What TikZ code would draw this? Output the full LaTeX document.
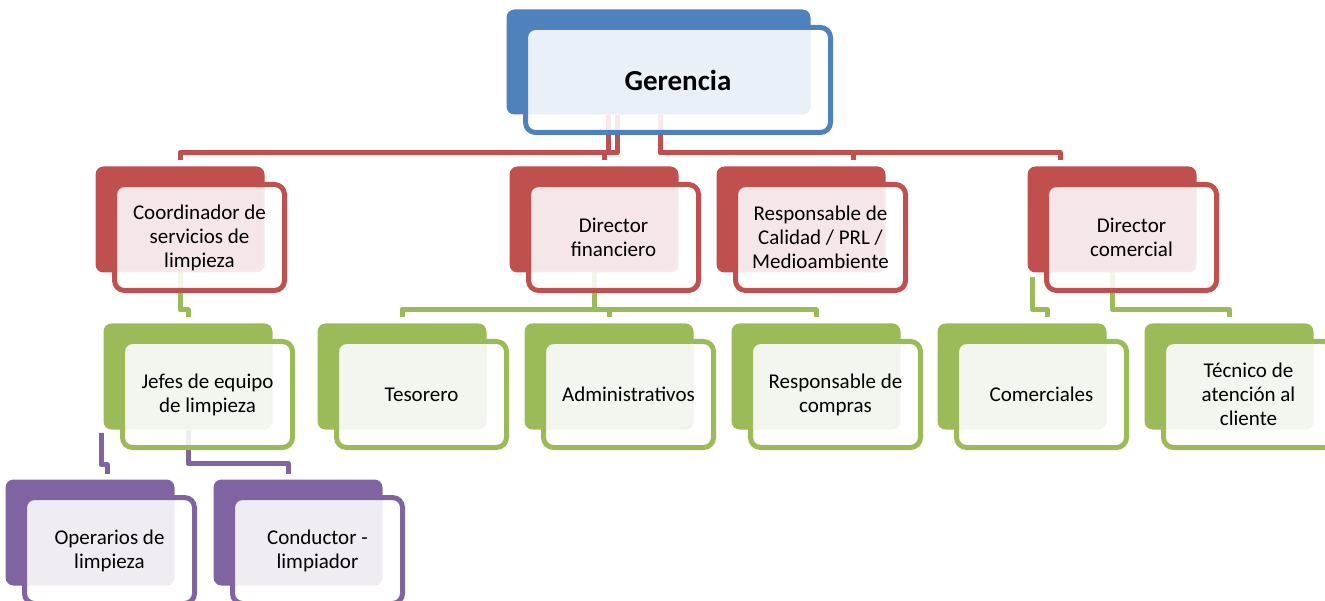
\documentclass[tikz,border=0pt]{standalone}
\usepackage{fontspec}
\setmainfont{Carlito}
\usetikzlibrary{calc}
\definecolor{cblue}{HTML}{4F81BD}
\definecolor{tblue}{HTML}{EAF0F8}
\definecolor{cred}{HTML}{C0504D}
\definecolor{tred}{HTML}{F5E7E7}
\definecolor{cgreen}{HTML}{9BBB59}
\definecolor{tgreen}{HTML}{F3F6EE}
\definecolor{cpurple}{HTML}{8064A2}
\definecolor{tpurple}{HTML}{EFECF4}
\pgfdeclarelayer{connlayer}
\pgfdeclarelayer{backlayer}
\pgfsetlayers{connlayer,backlayer,main}
\tikzset{
  orgbox/.style 2 args={draw=#1, line width=5pt, rounded corners=10pt,
    fill=white, fill opacity=0.88, text opacity=1, text=black,
    minimum width=170pt, minimum height=106pt, inner sep=0pt, align=center,
    font=\fontsize{21}{24}\selectfont,
    path picture={\fill[#2, fill opacity=1] (path picture bounding box.north west)
      rectangle ($(path picture bounding box.south east)+(-22.5pt,20.5pt)$);}},
  connline/.style={draw=#1, line width=5pt, line join=round}
}
\newcommand\orgnode[7][]{%
  \node[orgbox={#3}{#4},#1] (#2) at (#5,#6) {#7};
  \begin{pgfonlayer}{backlayer}
    \fill[#3, rounded corners=8pt] ($(#2.north west)+(-16.5,-15.5)$) rectangle ($(#2.south east)+(-22.5,-20.5)$);
  \end{pgfonlayer}}
\begin{document}
\begin{tikzpicture}[x=1pt,y=-1pt]
\useasboundingbox (0,0) rectangle (1325,601);
\clip (0,0) rectangle (1325,601);
\orgnode[minimum width=305pt, minimum height=105pt, font=\fontsize{29}{34}\selectfont\bfseries]{ger}{cblue}{tblue}{678}{80}{Gerencia}
\orgnode{coord}{cred}{tred}{199.5}{237.5}{Coordinador de\\servicios de\\limpieza}
\orgnode{dfin}{cred}{tred}{613.5}{237.5}{Director\\financiero}
\orgnode{cal}{cred}{tred}{820.5}{237.5}{Responsable de\\Calidad / PRL /\\Medioambiente}
\orgnode{dcom}{cred}{tred}{1131.5}{237.5}{Director\\comercial}
\orgnode{jefes}{cgreen}{tgreen}{207.5}{394.5}{Jefes de equipo\\de limpieza}
\orgnode{tes}{cgreen}{tgreen}{421.5}{394.5}{Tesorero}
\orgnode{adm}{cgreen}{tgreen}{628.5}{394.5}{Administrativos}
\orgnode{comp}{cgreen}{tgreen}{835.5}{394.5}{Responsable de\\compras}
\orgnode{come}{cgreen}{tgreen}{1041.5}{394.5}{Comerciales}
\orgnode{tec}{cgreen}{tgreen}{1248.5}{394.5}{Técnico de\\atención al\\cliente}
\orgnode{oper}{cpurple}{tpurple}{109.5}{550.5}{Operarios de\\limpieza}
\orgnode{cond}{cpurple}{tpurple}{317.5}{550.5}{Conductor -\\limpiador}
\begin{pgfonlayer}{connlayer}
\draw[connline=cred] ($(ger.south)+(-70,-19.5)$) -- ++(0,37) -| ($(coord.north)+(-19.5,-21.5)$);
\draw[connline=cred] ($(ger.south)+(-61,-19.5)$) -- ++(0,37) -| ($(dfin.north)+(-9.5,-21.5)$);
\draw[connline=cred] ($(ger.south)+(-18,-19.5)$) -- ++(0,37) -| ($(cal.north)+(32.5,-21.5)$);
\draw[connline=cred] ($(ger.south)+(-18,-19.5)$) -- ++(0,37) -| ($(dcom.north)+(-71.5,-21.5)$);
\draw[connline=cgreen] ($(coord.south)+(-19.5,-20.5)$) -- ++(0,37) -| ($(jefes.north)+(-19.5,-21.5)$);
\draw[connline=cgreen] ($(dfin.south)+(-19.5,-20.5)$) -- ++(0,37) -| ($(tes.north)+(-19.5,-21.5)$);
\draw[connline=cgreen] ($(dfin.south)+(-19.5,-20.5)$) -- ++(0,37) -| ($(adm.north)+(-19.5,-21.5)$);
\draw[connline=cgreen] ($(dfin.south)+(-19.5,-20.5)$) -- ++(0,37) -| ($(comp.north)+(-19.5,-21.5)$);
\draw[connline=cgreen] ($(dcom.south)+(-99.5,-15.5)$) -- ++(0,32) -| ($(come.north)+(5.5,-21.5)$);
\draw[connline=cgreen] ($(dcom.south)+(-19.5,-20.5)$) -- ++(0,37) -| ($(tec.north)+(-19.5,-21.5)$);
\draw[connline=cpurple] ($(jefes.south)+(-106.5,-17.5)$) -- ++(0,32) -| ($(oper.north)+(-2.5,-21.5)$);
\draw[connline=cpurple] ($(jefes.south)+(-19.5,-20.5)$) -- ++(0,34) -| ($(cond.north)+(-29.5,-21.5)$);
\end{pgfonlayer}
\end{tikzpicture}
\end{document}
